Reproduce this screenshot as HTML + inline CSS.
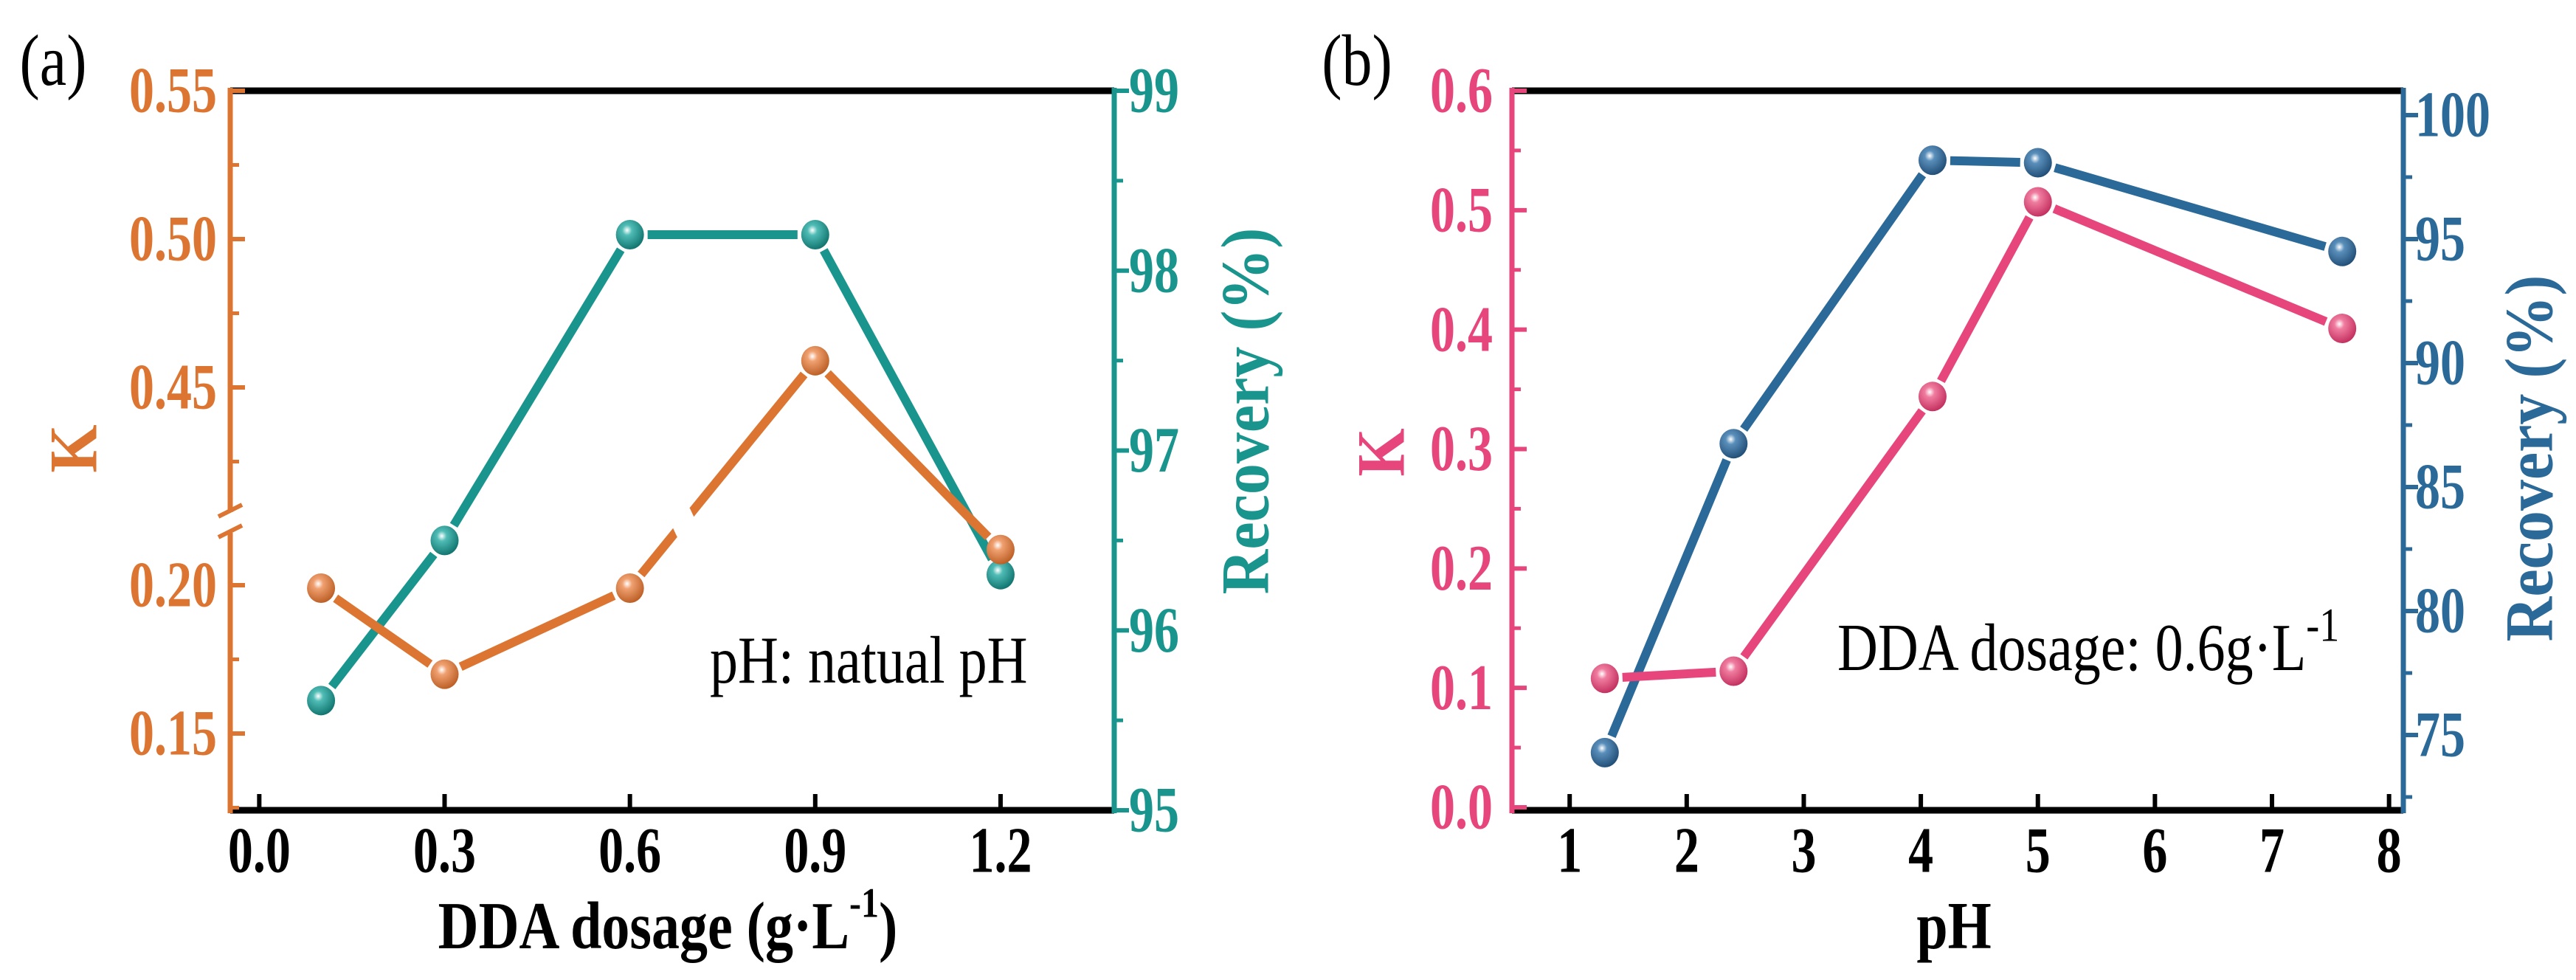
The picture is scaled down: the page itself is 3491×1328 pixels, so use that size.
<!DOCTYPE html>
<html><head><meta charset="utf-8"><style>
html,body{margin:0;padding:0;background:#fff}
svg{display:block}
text{font-family:"Liberation Serif",serif}
</style></head><body>
<svg id="c" width="3491" height="1328" viewBox="0 0 3491 1328" xmlns="http://www.w3.org/2000/svg">
<defs>
<radialGradient id="gO" cx="0.4" cy="0.35" r="0.7"><stop offset="0" stop-color="#fff"/><stop offset="0.25" stop-color="#f0a070"/><stop offset="1" stop-color="#b85a20"/></radialGradient>
<radialGradient id="gT" cx="0.4" cy="0.35" r="0.7"><stop offset="0" stop-color="#fff"/><stop offset="0.25" stop-color="#4fbcb5"/><stop offset="1" stop-color="#0d6f6a"/></radialGradient>
<radialGradient id="gP" cx="0.4" cy="0.35" r="0.7"><stop offset="0" stop-color="#fff"/><stop offset="0.25" stop-color="#f07ca0"/><stop offset="1" stop-color="#c02a5a"/></radialGradient>
<radialGradient id="gB" cx="0.4" cy="0.35" r="0.7"><stop offset="0" stop-color="#fff"/><stop offset="0.25" stop-color="#5a8fbb"/><stop offset="1" stop-color="#1d4a72"/></radialGradient>
</defs>
</svg>
<script>
// Panel (a) data
const aX = [0.1, 0.3, 0.6, 0.9, 1.2];
const aK = [0.199, 0.170, 0.199, 0.459, 0.212];
const aRec = [95.61, 96.5, 98.2, 98.2, 96.31];
const aXTicks = ["0.0","0.3","0.6","0.9","1.2"];
const aKTicksUpper = ["0.45","0.50","0.55"];
const aKTicksLower = ["0.15","0.20"];
const aRecTicks = ["95","96","97","98","99"];
// Panel (b) data
const bX = [1.3, 2.4, 4.1, 5.0, 7.6];
const bK = [0.108, 0.114, 0.344, 0.507, 0.401];
const bRec = [74.29, 86.75, 98.18, 98.08, 94.5];
const bXTicks = ["1","2","3","4","5","6","7","8"];
const bKTicks = ["0.0","0.1","0.2","0.3","0.4","0.5","0.6"];
const bRecTicks = ["75","80","85","90","95","100"];

const svg = document.getElementById('c');
const NS = 'http://www.w3.org/2000/svg';
function el(tag, attrs, parent) {
  const e = document.createElementNS(NS, tag);
  for (const k in attrs) e.setAttribute(k, attrs[k]);
  (parent || svg).appendChild(e);
  return e;
}
function txt(s, x, y, size, color, anchor, weight, name, rot, sy) {
  const t = el('text', {x:0, y:0, 'font-size':size, fill:color, 'text-anchor':anchor, 'font-weight':weight, 'dominant-baseline':'central'});
  t.setAttribute('transform', 'translate(' + x + ' ' + y + ')' + (rot ? ' rotate(' + rot + ')' : '') + ' scale(1 ' + (sy || 1.3) + ')');
  t.textContent = s;
  
  
  return t;
}
function line(x1,y1,x2,y2,color,w,name){
  const l = el('line',{x1:x1,y1:y1,x2:x2,y2:y2,stroke:color,'stroke-width':w});
  
  
  return l;
}
function series(xs, ys, sx, sy, color, grad, name, gapMask) {
  const g = el('g', {});
  
  
  const pts = xs.map((v,i)=>[sx(v), sy(ys[i])]);
  for (let i=0;i<pts.length-1;i++){
    const [x1,y1]=pts[i],[x2,y2]=pts[i+1];
    const dx=x2-x1, dy=y2-y1, L=Math.hypot(dx,dy), g0=24/L;
    const s = el('line',{x1:x1+dx*g0,y1:y1+dy*g0,x2:x2-dx*g0,y2:y2-dy*g0,stroke:color,'stroke-width':12},g);
    
    
  }
  if (gapMask) gapMask(g);
  pts.forEach(p=>{
    const c = el('ellipse',{cx:p[0],cy:p[1],rx:19,ry:20,fill:'url(#'+grad+')'},g);
    
    
  });
}

// ---------- Panel (a) ----------
const A = {L:312, R:1510, T:123, B:1098, brk:708, xmin:-0.047, xmax:1.384};
const axA = v => A.L + (v - A.xmin)/(A.xmax - A.xmin)*(A.R - A.L);
const kUpper = v => 525 - (v - 0.45)/0.05*201;
const kLower = v => 793 - (v - 0.20)/0.05*201;
const kA = v => v > 0.3 ? kUpper(v) : kLower(v);
const rA = v => A.B - (v - 95)/4*(A.B - A.T);
const orange = '#dc7532', teal = '#1a958e';

series(aX, aRec, axA, rA, teal, 'gT', 'recovery-series-a');
series(aX, aK, axA, kA, orange, 'gO', 'k-series-a', g=>{
  const x1=axA(aX[2]), y1=kA(aK[2]), x2=axA(aX[3]), y2=kA(aK[3]);
  const t=(A.brk - y1)/(y2-y1); const cx=x1+(x2-x1)*t;
  const m = el('rect',{x:cx-16,y:A.brk-14,width:32,height:28,fill:'#fff',transform:'rotate(-25 '+cx+' '+A.brk+')'},g);
  
  
});
line(A.L, A.T, A.R, A.T, '#000', 9, 'top-axis-a');
line(A.L, A.B, A.R, A.B, '#000', 9, 'x-axis-a');
line(A.L, A.T-4, A.L, A.brk-14, orange, 7, 'k-axis-upper-a');
line(A.L, A.brk+14, A.L, A.B+4, orange, 7, 'k-axis-lower-a');
line(A.L-16, A.brk-8, A.L+16, A.brk-24, orange, 6, 'axis-break-mark');
line(A.L-16, A.brk+20, A.L+16, A.brk+4, orange, 6, 'axis-break-mark');
line(A.R, A.T-4, A.R, A.B+4, teal, 7, 'recovery-axis-a');
aXTicks.forEach(s=>{ const x=axA(+s); line(x, A.B, x, A.B-22, '#000', 6, 'x-tick-a'); txt(s, x, 1153, 68, '#000', 'middle', 'bold', 'x-tick-label-a'); });
aKTicksUpper.forEach(s=>{ const y=kUpper(+s); line(A.L, y, A.L+20, y, orange, 6, 'k-tick-a'); txt(s, 294, y, 68, orange, 'end', 'bold', 'k-tick-label-a'); });
[0.425, 0.475, 0.525].forEach(v=>{ const y=kUpper(v); line(A.L, y, A.L+12, y, orange, 5, 'k-minor-tick-a'); });
aKTicksLower.forEach(s=>{ const y=kLower(+s); line(A.L, y, A.L+20, y, orange, 6, 'k-tick-a'); txt(s, 294, y, 68, orange, 'end', 'bold', 'k-tick-label-a'); });
[0.175, 0.125].forEach(v=>{ const y=kLower(v); line(A.L, y, A.L+12, y, orange, 5, 'k-minor-tick-a'); });
aRecTicks.forEach(s=>{ const y=rA(+s); line(A.R, y, A.R+20, y, teal, 6, 'recovery-tick-a'); txt(s, 1530, y, 68, teal, 'start', 'bold', 'recovery-tick-label-a'); });
[95.5,96.5,97.5,98.5].forEach(v=>{ const y=rA(v); line(A.R, y, A.R+12, y, teal, 5, 'recovery-minor-tick-a'); });
txt('(a)', 72, 82, 82, '#000', 'middle', 'normal', 'panel-label-a', 0, 1.2);
txt('K', 100, 608, 84, orange, 'middle', 'bold', 'k-axis-title-a', -90, 1.1);
txt('Recovery (%)', 1688, 557, 84, teal, 'middle', 'bold', 'recovery-axis-title-a', -90, 1.1);
const xt = txt('', 905, 1255, 76, '#000', 'middle', 'bold', 'x-axis-title-a', 0, 1.2);
xt.innerHTML = 'DDA dosage (g·L<tspan dy="-26" font-size="48">-1</tspan><tspan dy="26">)</tspan>';
txt('pH: natual pH', 962, 895, 76, '#000', 'start', 'normal', 'annotation-a', 0, 1.2);

// ---------- Panel (b) ----------
const B = {L:2049, R:3257, T:123, B:1098, xmin:0.507, xmax:8.122};
const bxS = v => B.L + (v - B.xmin)/(B.xmax - B.xmin)*(B.R - B.L);
const kB = v => 1094 - v/0.6*(1094-123);
const rB = v => 996 - (v - 75)/25*(996-156);
const pink = '#e6467c', blue = '#2b6a98';
series(bX, bRec, bxS, rB, blue, 'gB', 'recovery-series-b');
series(bX, bK, bxS, kB, pink, 'gP', 'k-series-b');
line(B.L, B.T, B.R, B.T, '#000', 9, 'top-axis-b');
line(B.L, B.B, B.R, B.B, '#000', 9, 'x-axis-b');
line(B.L, B.T-4, B.L, B.B+4, pink, 7, 'k-axis-b');
line(B.R, B.T-4, B.R, B.B+4, blue, 7, 'recovery-axis-b');
bXTicks.forEach(s=>{ const x=bxS(+s); line(x, B.B, x, B.B-22, '#000', 6, 'x-tick-b'); txt(s, x, 1153, 68, '#000', 'middle', 'bold', 'x-tick-label-b'); });
bKTicks.forEach(s=>{ const y=kB(+s); line(B.L, y, B.L+20, y, pink, 6, 'k-tick-b'); txt(s, 2023, y, 68, pink, 'end', 'bold', 'k-tick-label-b'); });
[0.05,0.15,0.25,0.35,0.45,0.55].forEach(v=>{ const y=kB(v); line(B.L, y, B.L+12, y, pink, 5, 'k-minor-tick-b'); });
bRecTicks.forEach(s=>{ const y=rB(+s); line(B.R, y, B.R+20, y, blue, 6, 'recovery-tick-b'); txt(s, 3273, y, 68, blue, 'start', 'bold', 'recovery-tick-label-b'); });
[72.5,77.5,82.5,87.5,92.5,97.5].forEach(v=>{ const y=rB(v); line(B.R, y, B.R+12, y, blue, 5, 'recovery-minor-tick-b'); });
txt('(b)', 1839, 82, 82, '#000', 'middle', 'normal', 'panel-label-b', 0, 1.2);
txt('K', 1872, 613, 84, pink, 'middle', 'bold', 'k-axis-title-b', -90, 1.1);
txt('Recovery (%)', 3428, 621, 84, blue, 'middle', 'bold', 'recovery-axis-title-b', -90, 1.1);
txt('pH', 2648, 1255, 76, '#000', 'middle', 'bold', 'x-axis-title-b', 0, 1.2);
const an = txt('', 2490, 878, 76, '#000', 'start', 'normal', 'annotation-b', 0, 1.2);
an.innerHTML = 'DDA dosage: 0.6g·L<tspan dy="-26" font-size="54">-1</tspan>';
</script>
</body></html>
